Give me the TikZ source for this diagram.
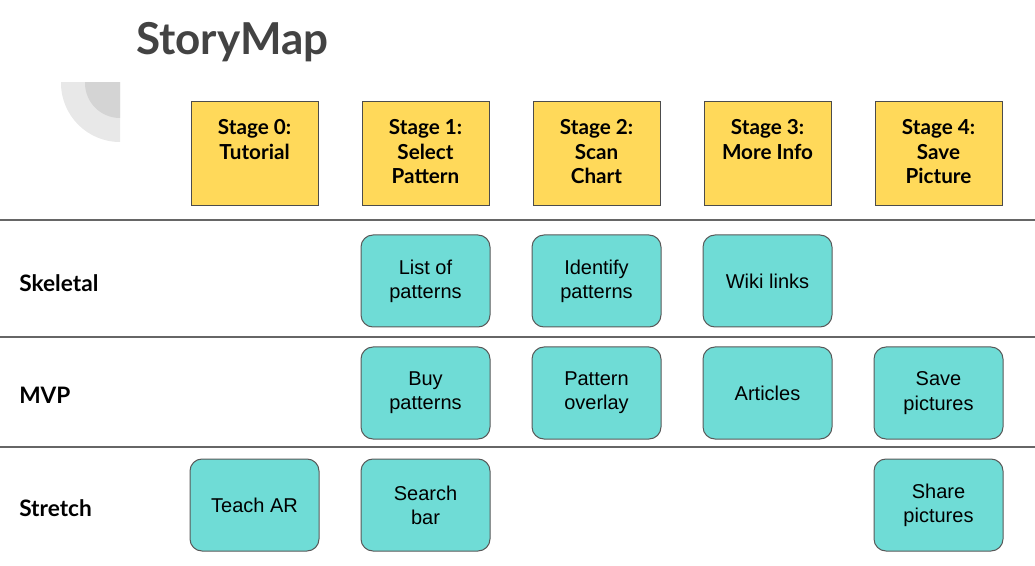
\documentclass[tikz,border=0pt]{standalone}
\usepackage{fontspec}
\setmainfont{Lato}
\newfontfamily\boxfont{Liberation Sans}
\usetikzlibrary{positioning}
\definecolor{stageyellow}{HTML}{FFD95A}
\definecolor{storyteal}{HTML}{6FDCD6}
\definecolor{titlegray}{HTML}{434343}
\definecolor{decolight}{HTML}{E8E8E8}
\definecolor{decodark}{HTML}{D4D4D4}

\begin{document}
\begin{tikzpicture}[x=0.75pt, y=-0.75pt,
	stage/.style={draw=black!70, line width=0.75pt, fill=stageyellow, minimum width=95.25pt, minimum height=78pt, inner sep=0pt},
	stagetext/.style={font=\bfseries\fontsize{15.5}{18.2}\selectfont, align=center, inner sep=0pt},
	story/.style={draw=black!65, line width=0.75pt, fill=storyteal, rounded corners=9pt, minimum width=96.75pt, minimum height=69pt, inner sep=0pt, align=center, font=\boxfont\fontsize{15}{18.2}\selectfont},
	rowlabel/.style={font=\bfseries\fontsize{17}{20}\selectfont, anchor=west, inner sep=0pt},
	divider/.style={black!60, line width=1pt}]
	\useasboundingbox (0,0) rectangle (1035,566);

	% corner decoration
	\begin{scope}
		\clip (61,83) rectangle (120,142);
		\fill[decolight] (120,83) circle [radius=59];
		\fill[decodark] (120,83) circle [radius=35];
	\end{scope}

	\node[anchor=base west, inner sep=0pt, text=titlegray, font=\bfseries\fontsize{33}{36}\selectfont] (title) at (136,55) {StoryMap};

	% stages
	\foreach \i/\x/\txt in {0/254.5/{Stage 0:\\Tutorial}, 1/425.5/{Stage 1:\\Select\\Pattern}, 2/596.5/{Stage 2:\\Scan\\Chart}, 3/767.5/{Stage 3:\\More Info}, 4/938.5/{Stage 4:\\Save\\Picture}} {
		\node[stage] (s\i) at (\x,154) {};
		\node[stagetext, below=13.5pt of s\i.north] (t\i) {\txt};
	}

	% rows
	\draw[divider] (0,220) -- (1035,220);
	\draw[divider] (0,337) -- (1035,337);
	\draw[divider] (0,447) -- (1035,447);

	\node[rowlabel] (skeletal) at (19,283) {Skeletal};
	\node[rowlabel] (mvp) at (19,395) {MVP};
	\node[rowlabel] (stretch) at (19,508) {Stretch};

	\node[story] (skel1) at (425.5,281) {List of\\patterns};
	\node[story] (skel2) at (596.5,281) {Identify\\patterns};
	\node[story] (skel3) at (767.5,281) {Wiki links};

	\node[story] (mvp1) at (425.5,393) {Buy\\patterns};
	\node[story] (mvp2) at (596.5,393) {Pattern\\overlay};
	\node[story] (mvp3) at (767.5,393) {Articles};
	\node[story] (mvp4) at (938.5,393) {Save\\pictures};

	\node[story] (str0) at (254.5,505) {Teach AR};
	\node[story] (str1) at (425.5,505) {Search\\bar};
	\node[story] (str4) at (938.5,505) {Share\\pictures};
\end{tikzpicture}
\end{document}
